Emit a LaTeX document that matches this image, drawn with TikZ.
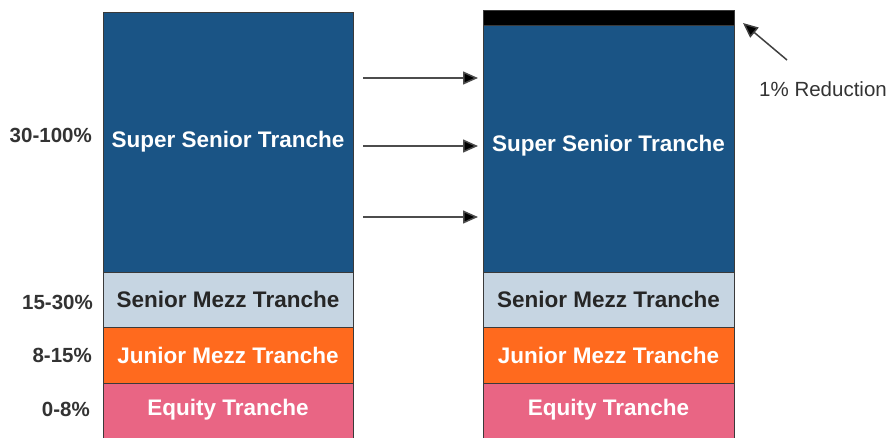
\documentclass[tikz,border=0pt]{standalone}
\usepackage{fontspec}
\setmainfont{Liberation Sans}
\usetikzlibrary{arrows.meta}
\definecolor{ssblue}{HTML}{1A5485}
\definecolor{smgray}{HTML}{C6D5E2}
\definecolor{jmorange}{HTML}{FF6A1E}
\definecolor{eqpink}{HTML}{E96584}
\definecolor{edgegray}{HTML}{3A3A3A}
\definecolor{labgray}{HTML}{333333}
\tikzset{
  tfont/.style={font=\fontsize{22.5}{26}\selectfont\bfseries},
  tranche/.style={draw=edgegray, line width=1pt, inner sep=0pt, outer sep=0pt, tfont, text=white},
  ttext/.style={tfont, text=white, inner sep=0pt},
  pct/.style={anchor=east, inner sep=0pt, font=\fontsize{20.5}{23}\selectfont\bfseries, text=labgray},
  tip/.style={-{Triangle[length=15pt,width=13pt,fill=black]}},
  flow/.style={line width=1.5pt, draw=black!70, tip, shorten >=5pt},
}
\begin{document}
\begin{tikzpicture}[x=1pt,y=-1pt]
\useasboundingbox (0,0) rectangle (890,437);
% left stack
\node[tranche, fill=ssblue, minimum width=250pt, minimum height=260pt] (ss1) at (228,142) {Super Senior Tranche};
\node[tranche, fill=smgray, text=black!85, minimum width=250pt, minimum height=55pt] (sm1) at (228,299.5) {Senior Mezz Tranche};
\node[tranche, fill=jmorange, minimum width=250pt, minimum height=56pt] (jm1) at (228,355) {Junior Mezz Tranche};
\node[tranche, fill=eqpink, minimum width=250pt, minimum height=60pt] (eq1) at (228,413) {};
\node[ttext] (eqt1) at (228,410) {Equity Tranche};
% right stack
\node[tranche, fill=black, minimum width=251pt, minimum height=15pt] (red) at (608.5,17.5) {};
\node[tranche, fill=ssblue, minimum width=251pt, minimum height=247pt] (ss2) at (608.5,148.5) {};
\node[ttext] (sst2) at (608.5,146) {Super Senior Tranche};
\node[tranche, fill=smgray, text=black!85, minimum width=251pt, minimum height=55pt] (sm2) at (608.5,299.5) {Senior Mezz Tranche};
\node[tranche, fill=jmorange, minimum width=251pt, minimum height=56pt] (jm2) at (608.5,355) {Junior Mezz Tranche};
\node[tranche, fill=eqpink, minimum width=251pt, minimum height=60pt] (eq2) at (608.5,413) {};
\node[ttext] (eqt2) at (608.5,410) {Equity Tranche};
% percentage labels
\node[pct] (p1) at (92,135) {30-100\%};
\node[pct] (p2) at (93,302) {15-30\%};
\node[pct] (p3) at (92,355) {8-15\%};
\node[pct] (p4) at (90,409) {0-8\%};
% arrows
\coordinate (a1) at (363,78);
\coordinate (a2) at (363,146);
\coordinate (a3) at (363,217);
\draw[flow] (a1) -- (ss2.west |- a1);
\draw[flow] (a2) -- (ss2.west |- a2);
\draw[flow] (a3) -- (ss2.west |- a3);
% reduction note
\node[anchor=west, inner sep=0pt, font=\fontsize{20.5}{23}\selectfont, text=labgray] (note) at (759,89) {1\% Reduction};
\coordinate (ns) at (787,60);
\draw[line width=1.5pt, draw=black!75, tip] (ns) -- (743,23);
\end{tikzpicture}
\end{document}
